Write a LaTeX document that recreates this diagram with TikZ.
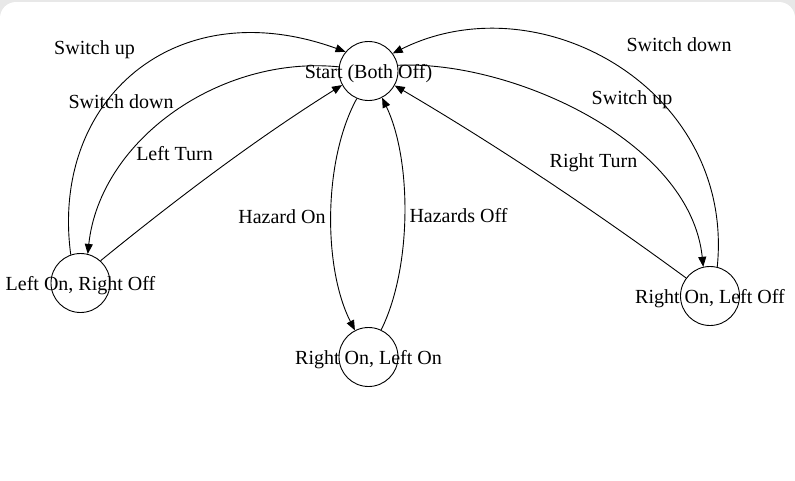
\documentclass[tikz,border=0pt]{standalone}
\usepackage{fontspec}
\setmainfont{Liberation Serif}
\usetikzlibrary{arrows.meta}
\begin{document}
\begin{tikzpicture}[x=1pt,y=-1pt,
  lbl/.style={inner sep=0pt, yshift=-1.5pt, font=\fontsize{20}{23}\selectfont},
  slbl/.style={lbl, yshift=-1pt},
  state/.style={draw, circle, line width=0.9pt, minimum size=59pt, inner sep=0pt},
  edge/.style={draw, line width=0.9pt, -{Triangle[length=10pt,width=8pt]}}]
\useasboundingbox (0,0) rectangle (795,480);
\begin{scope}
\clip (0,0) rectangle (795,480);
\fill[black!9] (0,0) rectangle (795,480);
\fill[white, rounded corners=16pt] (0,2) rectangle (795,530);
\end{scope}
% states
\node[state, label={[slbl]center:Start (Both Off)}]   (S)  at (368.5,71)  {};
\node[state, label={[slbl]center:Left On, Right Off}] (L)  at (80.5,283)  {};
\node[state, label={[slbl]center:Right On, Left On}]  (RL) at (368.5,357) {};
\node[state, label={[slbl]center:Right On, Left Off}] (RR) at (710,296)   {};
% edges
\path[edge] (S.172) .. controls (220,55) and (100,140) .. (L.76);
\path[edge] (L.109) .. controls (50,100) and (175,-10) .. (S.140);
\path[edge] (L.48) .. controls (180,196) and (259,137) .. (S.208);
\path[edge] (S.247) .. controls (323,160) and (323,268) .. (RL.117);
\path[edge] (RL.65) .. controls (412,268) and (412,160) .. (S.297);
\path[edge] (S.11) .. controls (510,60) and (690,140) .. (RR.103);
\path[edge] (RR.76) .. controls (735,90) and (540,-20) .. (S.36);
\path[edge] (RR.143) .. controls (592,209) and (496,145) .. (S.331);
% labels
\node[lbl] (l1) at (121,100) {Switch down};
\node[lbl] (l2) at (94.5,48) {Switch up};
\node[lbl] (l3) at (174.5,152) {Left Turn};
\node[lbl] (l4) at (282,215) {Hazard On};
\node[lbl] (l5) at (458.5,214) {Hazards Off};
\node[lbl] (l6) at (632,98) {Switch up};
\node[lbl] (l7) at (679,43) {Switch down};
\node[lbl] (l8) at (593.5,161) {Right Turn};
\end{tikzpicture}
\end{document}
